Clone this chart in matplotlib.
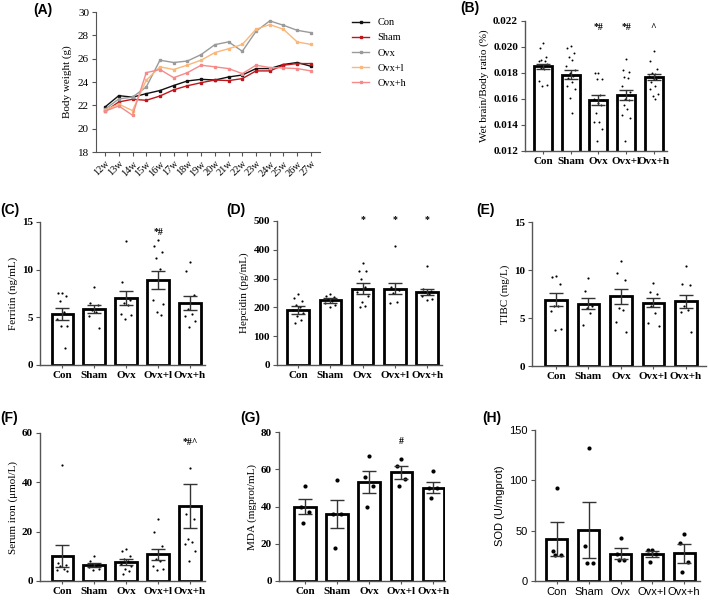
import numpy as np
import matplotlib
matplotlib.use("Agg")
import matplotlib.pyplot as plt

W, H = 709, 600
SERIF = ["Liberation Serif", "DejaVu Serif"]
SANS = ["Liberation Sans", "DejaVu Sans"]

groups = ["Con", "Sham", "Ovx", "Ovx+l", "Ovx+h"]

# (A) body weight by week
weeks = ["12w", "13w", "14w", "15w", "16w", "17w", "18w", "19w",
         "20w", "21w", "22w", "23w", "24w", "25w", "26w", "27w"]
bw_con = [21.86, 22.83, 22.70, 23.00, 23.27, 23.70, 24.09, 24.23,
          24.17, 24.43, 24.60, 25.15, 25.15, 25.50, 25.67, 25.35]
bw_sham = [21.48, 22.29, 22.52, 22.43, 22.80, 23.33, 23.68, 23.94,
           24.17, 24.12, 24.29, 24.95, 24.95, 25.44, 25.58, 25.58]
bw_ovx = [21.66, 22.55, 22.70, 23.57, 25.87, 25.67, 25.80, 26.35,
          27.20, 27.44, 26.63, 28.35, 29.24, 28.86, 28.43, 28.23]
bw_ovxl = [21.60, 22.10, 21.55, 24.15, 25.30, 25.07, 25.45, 25.87,
           26.52, 26.85, 27.22, 28.52, 28.92, 28.52, 27.43, 27.22]
bw_ovxh = [21.50, 21.95, 21.15, 24.80, 25.07, 24.37, 24.80, 25.44,
           25.30, 25.15, 24.72, 25.44, 25.24, 25.20, 25.15, 24.95]

# (B) wet brain / body ratio
brain_mean = [0.01852, 0.01785, 0.0159, 0.0163, 0.0177]
brain_sem = [0.0002, 0.00035, 0.0004, 0.00037, 0.00025]
brain_pts = [
    [0.0203, 0.0199, 0.0192, 0.0190, 0.0189, 0.0189, 0.0187, 0.0186, 0.0185, 0.0184, 0.0183, 0.0174, 0.0171, 0.0170],
    [0.0201, 0.0199, 0.0195, 0.0192, 0.0190, 0.0185, 0.0182, 0.0180, 0.0178, 0.0176, 0.0173, 0.0170, 0.0168, 0.0161, 0.0149],
    [0.0180, 0.0180, 0.0175, 0.0175, 0.0163, 0.0160, 0.0159, 0.0157, 0.0155, 0.0149, 0.0142, 0.0142, 0.0137, 0.0128],
    [0.0191, 0.0182, 0.0181, 0.0177, 0.0176, 0.0170, 0.0165, 0.0160, 0.0159, 0.0155, 0.0152, 0.0148, 0.0145, 0.0128],
    [0.0197, 0.0189, 0.0183, 0.0180, 0.0179, 0.0178, 0.0177, 0.0176, 0.0175, 0.0173, 0.0170, 0.0168, 0.0164, 0.0162, 0.0160],
]
brain_sig = ["", "", "*#", "*#", "^"]

# (C) ferritin
fer_mean = [5.35, 5.9, 7.0, 8.88, 6.47]
fer_sem = [0.6, 0.42, 0.73, 0.95, 0.75]
fer_pts = [
    [7.6, 7.6, 7.2, 6.7, 5.6, 4.8, 4.1, 4.1, 1.8],
    [8.2, 6.5, 6.3, 5.8, 5.6, 5.1, 3.9],
    [13.0, 8.7, 6.8, 6.5, 6.3, 5.4, 5.2, 4.8],
    [13.1, 12.5, 11.9, 11.2, 10.1, 6.8, 6.4, 5.6, 5.2],
    [10.8, 9.9, 7.3, 5.9, 5.3, 5.1, 4.6, 4.0],
]
fer_sig = ["", "", "", "*#", ""]

# (D) hepcidin
hep_mean = [191, 224, 265, 265, 254]
hep_sem = [12.7, 9, 20, 20, 10]
hep_pts = [
    [248, 232, 222, 210, 200, 190, 180, 170, 155, 145],
    [248, 240, 235, 228, 222, 215, 210, 200],
    [355, 325, 325, 300, 270, 255, 240, 220, 205, 200],
    [412, 270, 260, 250, 220, 215],
    [345, 265, 258, 252, 245, 240, 228, 225],
]
hep_sig = ["", "", "*", "*", "*"]

# (E) TIBC
tibc_mean = [6.9, 6.5, 7.25, 6.6, 6.73]
tibc_sem = [0.7, 0.55, 0.77, 0.45, 0.65]
tibc_pts = [
    [9.4, 9.3, 8.5, 6.3, 6.2, 5.7, 3.9, 3.8],
    [9.2, 7.8, 6.3, 6.0, 5.5, 4.3],
    [10.9, 9.7, 9.0, 6.0, 5.8, 4.6, 3.5],
    [8.6, 7.7, 7.5, 6.3, 5.5, 4.5, 4.2],
    [10.4, 8.5, 8.4, 6.3, 5.8, 5.6, 3.5],
]

# (F) serum iron
iron_mean = [10.1, 6.5, 7.8, 10.9, 30.3]
iron_sem = [4.3, 0.7, 1.2, 2.2, 9.0]
iron_pts = [
    [47, 7.5, 6.5, 6.0, 5.0, 4.5, 4.2],
    [10, 8, 7, 6.5, 6, 5.5, 5, 4.5],
    [13, 12, 10, 9, 8, 7, 6, 5, 4, 3],
    [25, 20, 14, 9, 8, 6, 5, 4.5],
    [46, 27, 25, 17, 16, 15, 12, 8],
]
iron_sig = ["", "", "", "", "*#^"]

# (G) MDA
mda_mean = [40, 35.8, 53, 58.3, 50.2]
mda_sem = [4, 7.5, 5.8, 3.5, 3.2]
mda_pts = [
    [51, 40, 37, 31],
    [54, 36, 36, 17.5],
    [67, 56, 51, 39.5],
    [65.5, 62, 55, 51],
    [59, 50, 50, 44.5],
]
mda_sig = ["", "", "", "#", ""]

# (H) SOD
sod_mean = [42, 50.5, 27, 27, 27.5]
sod_sem = [17, 27.5, 5.5, 3, 9.5]
sod_pts = [
    [92, 30, 25.5, 25.5],
    [132, 35, 18, 18],
    [43, 27, 20.5, 20.5],
    [31, 31, 27, 19],
    [47, 38, 19, 8.5],
]


def box(l, r, t, b):
    return [l / W, 1 - b / H, (r - l) / W, (b - t) / H]


def jitter(n):
    # deterministic spread of dots across the bar width
    pattern = [0.0, -0.12, 0.12, -0.06, 0.06, -0.16, 0.16, -0.02, 0.09, -0.09, 0.03, -0.14, 0.14, -0.04, 0.04]
    return np.array([pattern[i % len(pattern)] for i in range(n)])


def bar_panel(fig, rect, xlim, means, sems, pts, ylim, yticks, ylabel,
              sig=None, sig_y=None, fmt="{:g}", font=SERIF, dot=2.5):
    ax = fig.add_axes(rect)
    x = np.arange(len(groups))
    weight = "normal" if font == SANS else "bold"
    ax.bar(x, means, width=0.66, color="white", edgecolor="black", linewidth=2.0, zorder=2)
    for i, p in enumerate(pts):
        ax.scatter(i + jitter(len(p)), p, s=dot, color="black", zorder=3, linewidths=0)
    ax.errorbar(x, means, yerr=sems, fmt="none", ecolor="#333333", elinewidth=1.0,
                capsize=5, capthick=1.0, zorder=4)
    ax.set_xlim(*xlim)
    ax.set_ylim(*ylim)
    ax.set_yticks(yticks)
    ax.set_yticklabels([fmt.format(v) for v in yticks], fontfamily=font,
                       fontweight=weight, fontsize=8)
    ax.set_xticks(x)
    ax.set_xticklabels(groups, fontfamily=font, fontweight=weight, fontsize=8)
    ax.set_ylabel(ylabel, fontfamily=font, fontsize=8, labelpad=3)
    for s in ["top", "right"]:
        ax.spines[s].set_visible(False)
    for s in ["left", "bottom"]:
        ax.spines[s].set_color("#555555")
        ax.spines[s].set_linewidth(1.0)
    ax.tick_params(axis="y", length=3, width=0.8, color="#555555", pad=2)
    ax.tick_params(axis="x", length=2.5, width=0.8, color="#555555", pad=1.5)
    if sig:
        for i, s in enumerate(sig):
            if s:
                ax.text(i, sig_y, s, ha="center", va="center", fontsize=7,
                        fontfamily=SERIF, fontweight="bold")
    return ax


fig = plt.figure(figsize=(W / 100, H / 100), dpi=100)

# panel A
axA = fig.add_axes(box(96, 320, 12, 152))
xw = np.arange(len(weeks))
series = [("Con", bw_con, "#111111"), ("Sham", bw_sham, "#c0151b"),
          ("Ovx", bw_ovx, "#9a9a9a"), ("Ovx+l", bw_ovxl, "#f9b77a"),
          ("Ovx+h", bw_ovxh, "#f58a8a")]
for name, vals, col in series:
    axA.plot(xw, vals, color=col, linewidth=1.0, marker="s", markersize=2, label=name)
axA.set_xlim(-0.66, 15.66)
axA.set_ylim(18, 30)
axA.set_yticks([18, 20, 22, 24, 26, 28, 30])
axA.set_yticklabels([str(v) for v in [18, 20, 22, 24, 26, 28, 30]], fontfamily=SERIF, fontsize=8)
axA.set_xticks(xw)
axA.set_xticklabels(weeks, rotation=45, ha="right", rotation_mode="anchor",
                    fontfamily=SERIF, fontsize=7.5)
axA.set_ylabel("Body weight (g)", fontfamily=SERIF, fontsize=8)
for s in ["top", "right"]:
    axA.spines[s].set_visible(False)
for s in ["left", "bottom"]:
    axA.spines[s].set_color("#555555")
axA.tick_params(axis="both", length=3, width=0.8, color="#555555", pad=2)
axA.legend(loc="upper left", bbox_to_anchor=(348 / W, 1 - 14 / H), bbox_transform=fig.transFigure,
           frameon=False, prop={"family": SERIF, "size": 7.5}, handlelength=1.6,
           labelspacing=0.55, borderaxespad=0)

bar_panel(fig, box(525, 667, 21, 151), (-0.65, 4.48), brain_mean, brain_sem, brain_pts,
          (0.012, 0.022), [0.012, 0.014, 0.016, 0.018, 0.020, 0.022],
          "Wet brain/Body ratio (%)", brain_sig, 0.0215, fmt="{:.3f}", dot=2)
bar_panel(fig, box(40, 205, 222, 365), (-0.69, 4.47), fer_mean, fer_sem, fer_pts,
          (0, 15), [0, 5, 10, 15], "Ferritin (ng/mL)", fer_sig, 13.9)
bar_panel(fig, box(277, 442, 221, 365), (-0.65, 4.46), hep_mean, hep_sem, hep_pts,
          (0, 500), [0, 100, 200, 300, 400, 500], "Hepcidin (pg/mL)", hep_sig, 505)
bar_panel(fig, box(532, 706, 222, 366), (-0.74, 4.62), tibc_mean, tibc_sem, tibc_pts,
          (0, 15), [0, 5, 10, 15], "TIBC (mg/L)")
bar_panel(fig, box(40, 205, 433, 581), (-0.69, 4.47), iron_mean, iron_sem, iron_pts,
          (0, 60), [0, 20, 40, 60], "Serum iron (\u03bcmol/L)", iron_sig, 56)
bar_panel(fig, box(279, 445, 432, 581), (-0.81, 4.37), mda_mean, mda_sem, mda_pts,
          (0, 80), [0, 20, 40, 60, 80], "MDA (mgprot/mL)", mda_sig, 75, dot=9)
bar_panel(fig, box(535, 700, 430, 581), (-0.69, 4.5), sod_mean, sod_sem, sod_pts,
          (0, 150), [0, 50, 100, 150], "SOD (U/mgprot)", font=SANS, dot=9)

labels = [("(A)", 33, 10), ("(B)", 460, 8), ("(C)", 0, 210), ("(D)", 226, 210),
          ("(E)", 476, 210), ("(F)", 0, 418), ("(G)", 240, 418), ("(H)", 482, 418)]
for txt, px, py in labels:
    fig.text(px / W, 1 - py / H, txt, fontfamily=SANS, fontweight="bold", fontsize=10,
             ha="left", va="center")

fig.savefig("out.png", dpi=100)
